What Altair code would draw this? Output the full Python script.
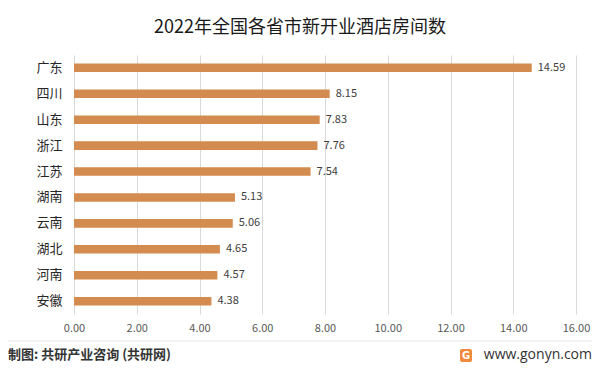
import altair as alt
import pandas as pd

provinces = ["广东", "四川", "山东", "浙江", "江苏", "湖南", "云南", "湖北", "河南", "安徽"]
values = [14.59, 8.15, 7.83, 7.76, 7.54, 5.13, 5.06, 4.65, 4.57, 4.38]
x_ticks = [0, 2, 4, 6, 8, 10, 12, 14, 16]

df = pd.DataFrame({"province": provinces, "value": values})
df["label"] = df["value"].map(lambda v: f"{v:.2f}")

FONT = "Noto Sans CJK SC"
W, H = 502, 259

y_enc = alt.Y("province:N", sort=provinces, title=None,
              scale=alt.Scale(paddingInner=0.67, paddingOuter=0.33),
              axis=alt.Axis(labelFont=FONT, labelFontSize=13, labelColor="#262626",
                            labelPadding=12, ticks=False, domain=False, grid=False))
x_enc = alt.X("value:Q", title=None,
              scale=alt.Scale(domain=[0, 16], nice=False),
              axis=alt.Axis(values=x_ticks, format=".2f", labelFont=FONT, labelFontSize=11,
                            labelColor="#595959", labelPadding=8, labelFlush=False,
                            labelOverlap=False, grid=True,
                            gridColor="#d9d9d9", gridWidth=1, domain=False,
                            ticks=False))

bars = alt.Chart(df).mark_bar(color="#D48B4F").encode(x=x_enc, y=y_enc)
labels = alt.Chart(df).mark_text(align="left", dx=6, font=FONT, fontSize=11,
                                 color="#404040").encode(
    x="value:Q", y=alt.Y("province:N", sort=provinces), text="label:N")

title = alt.Chart(pd.DataFrame({"t": ["2022年全国各省市新开业酒店房间数"]})).mark_text(
    font=FONT, fontSize=18, color="#1a1a1a", align="center", baseline="middle").encode(
    x=alt.value(226), y=alt.value(-27), text="t:N")

sep = alt.Chart(pd.DataFrame({"a": [0]})).mark_rule(color="#e6e6e6", strokeWidth=1).encode(
    x=alt.value(-66), x2=alt.value(518), y=alt.value(286))

footer_left = alt.Chart(pd.DataFrame({"t": ["制图: 共研产业咨询 (共研网)"]})).mark_text(
    font=FONT, fontSize=13, fontWeight="bold", color="#333333", align="left",
    baseline="middle").encode(x=alt.value(-66), y=alt.value(300), text="t:N")

logo = alt.Chart(pd.DataFrame({"a": [0]})).mark_rect(color="#F08A3C", cornerRadius=2).encode(
    x=alt.value(386), x2=alt.value(398), y=alt.value(294), y2=alt.value(307))
logo_g = alt.Chart(pd.DataFrame({"t": ["G"]})).mark_text(
    font="DejaVu Sans", fontSize=10, fontWeight="bold", color="white", align="center",
    baseline="middle").encode(x=alt.value(392), y=alt.value(301), text="t:N")

footer_right = alt.Chart(pd.DataFrame({"t": ["www.gonyn.com"]})).mark_text(
    font="Open Sans", fontSize=14, color="#333333", align="right",
    baseline="middle").encode(x=alt.value(518), y=alt.value(300), text="t:N")

chart = alt.layer(bars, labels, title, sep, footer_left, logo, logo_g, footer_right).properties(
    width=W, height=H,
    autosize=alt.AutoSizeParams(type="none"),
    padding={"left": 66, "top": 47, "right": 16, "bottom": 49},
    background="white",
).configure_view(stroke=None)

chart.save("out.html", embed_options={"renderer": "svg", "actions": False})
